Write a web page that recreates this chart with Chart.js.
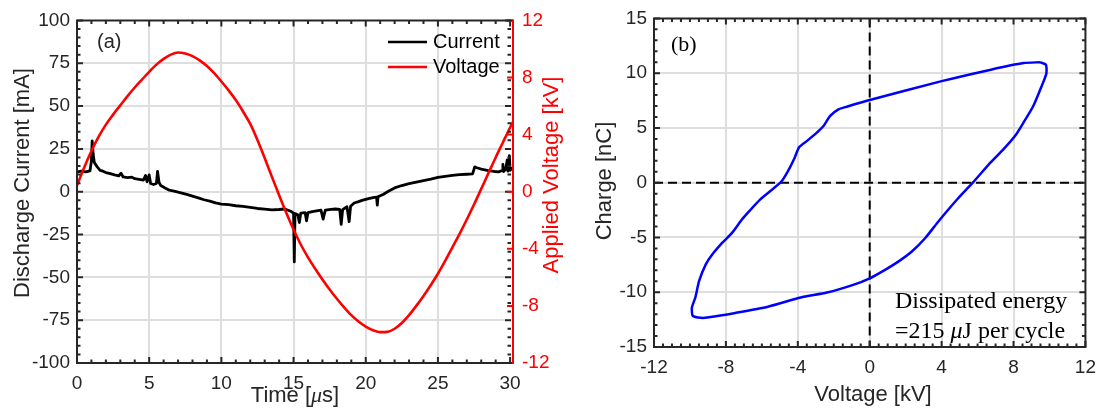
<!DOCTYPE html>
<html>
<head>
<meta charset="utf-8">
<script src="https://cdn.jsdelivr.net/npm/chart.js@4.4.1/dist/chart.umd.min.js"></script>
<style>
  body { margin: 0; background: #fff; }
  #wrap { position: relative; width: 1105px; height: 411px; }
  canvas { position: absolute; top: 0; }
  #chart-a { left: 0; }
  #chart-b { left: 570px; }
</style>
</head>
<body>
<div id="wrap">
  <canvas id="chart-a" width="570" height="411"></canvas>
  <canvas id="chart-b" width="535" height="411"></canvas>
</div>
<script>
// discharge current trace (time in us, current in mA)
const currentTime = [0.0, 0.3, 0.6, 0.9, 1.0, 1.05, 1.12, 1.2, 1.4, 1.6, 1.8, 2.0, 2.3, 2.6, 2.9, 3.05, 3.2, 3.5, 3.8, 4.0,
  4.3, 4.6, 4.75, 4.85, 5.0, 5.1, 5.3, 5.5, 5.58, 5.68, 5.8, 6.1, 6.4, 6.8, 7.2, 7.6, 8.0, 8.4, 8.8, 9.2,
  9.6, 10.0, 10.5, 11.0, 11.5, 12.0, 12.5, 13.0, 13.5, 14.0, 14.4, 14.8, 15.0, 15.05, 15.1, 15.3, 15.4, 15.5, 15.8, 15.9,
  16.0, 16.3, 16.6, 16.9, 17.05, 17.2, 17.6, 17.9, 18.2, 18.3, 18.4, 18.7, 18.85, 18.95, 19.2, 19.5, 19.8, 20.2, 20.5, 20.75,
  20.8, 20.85, 21.2, 21.6, 22.0, 22.5, 23.0, 23.5, 24.0, 24.5, 25.0, 25.5, 26.0, 26.5, 27.0, 27.4, 27.55, 27.7, 28.0, 28.5,
  28.9, 29.2, 29.45, 29.5, 29.55, 29.7, 29.8, 29.85, 29.95, 30.0, 30.2]
const currentMa = [11.5, 12.0, 11.6, 12.2, 18, 29.7, 22, 17, 14.5, 12.5, 12.0, 11.2, 10.6, 9.8, 9.3, 10.8, 8.6, 8.2, 8.5, 7.6,
  7.2, 6.8, 9.5, 5.8, 9.8, 4.8, 4.2, 4.8, 11.8, 5.5, 3.6, 2.2, 0.9, 0.2, -0.7, -1.6, -2.6, -3.6, -4.7, -5.5,
  -6.5, -7.2, -7.6, -8.2, -8.6, -9.2, -9.8, -10.2, -10.6, -10.4, -10.1, -11.4, -12.5, -41, -12.8, -13.5, -18, -12.5, -12.2, -17,
  -12.2, -11.6, -11.2, -10.8, -16, -10.8, -10.3, -10.1, -10.4, -19, -10.5, -8.8, -17.5, -8.5, -6.6, -5.8, -4.9, -4.0, -3.4, -3.2,
  -7.8, -3.0, -1.6, 0.4, 2.2, 3.6, 4.7, 5.6, 6.5, 7.3, 8.3, 9.0, 9.5, 10.0, 10.2, 10.4, 14.5, 14.0, 13.2, 12.3,
  11.8, 11.6, 12.4, 16, 11.8, 13.2, 18.5, 12, 21, 12.5, 14]

// applied voltage (time in us, kV)
const voltTime = [0.0, 0.5, 1.0, 1.5, 2.0, 2.5, 3.0, 3.5, 4.0, 4.5, 5.0, 5.5, 6.0, 6.5, 7.0, 7.5, 8.0, 8.5, 9.0, 9.5,
  10.0, 10.5, 11.0, 11.5, 12.0, 12.5, 13.0, 13.5, 14.0, 14.5, 15.0, 15.5, 16.0, 16.5, 17.0, 17.5, 18.0, 18.5, 19.0, 19.5,
  20.0, 20.5, 21.0, 21.5, 22.0, 22.5, 23.0, 23.5, 24.0, 24.5, 25.0, 25.5, 26.0, 26.5, 27.0, 27.5, 28.0, 28.5, 29.0, 29.5,
  30.0, 30.2]
const voltKv = [0.44, 1.7, 2.85, 3.85, 4.7, 5.4, 6.05, 6.7, 7.3, 7.85, 8.4, 8.9, 9.3, 9.6, 9.75, 9.68, 9.5, 9.2, 8.8, 8.3,
  7.72, 7.1, 6.42, 5.62, 4.75, 3.62, 2.36, 1.05, -0.25, -1.5, -2.65, -3.7, -4.6, -5.4, -6.15, -6.85, -7.5, -8.1, -8.65, -9.1,
  -9.45, -9.7, -9.84, -9.82, -9.6, -9.2, -8.65, -8.0, -7.3, -6.55, -5.75, -4.85, -3.9, -2.95, -1.95, -0.9, 0.2, 1.3, 2.4, 3.45,
  4.5, 4.9]

// charge-voltage loop (kV, nC)
const loopKv = [9.47, 9.8, 9.83, 9.56, 9.1, 8.56, 8.1, 7.46, 6.74, 5.73, 4.91, 4.4, 3.82, 3.09, 2.36, 1.63, 0.9, 0.0, -0.92, -2.38,
  -3.84, -5.66, -7.48, -8.94, -9.39, -9.85, -9.89, -9.7, -9.49, -9.12, -8.76, -8.21, -7.67, -7.12, -6.7, -6.1, -4.93, -4.57, -4.2, -3.93,
  -3.47, -2.93, -2.56, -2.2, -1.74, -1.28, 0.0, 4.0, 6.74, 8.56, 9.47]
const loopNc = [11.0, 10.77, 10.0, 8.8, 7.0, 5.5, 4.3, 3.08, 1.88, 0.0, -1.44, -2.4, -3.54, -5.05, -6.26, -7.16, -7.91, -8.73, -9.33, -10.03,
  -10.48, -11.32, -11.89, -12.29, -12.34, -12.13, -11.38, -10.48, -8.97, -7.46, -6.56, -5.5, -4.6, -3.39, -2.6, -1.55, 0.07, 0.98, 2.18, 3.24,
  3.84, 4.59, 5.2, 6.1, 6.7, 6.94, 7.55, 9.27, 10.32, 10.92, 11.0]

const timeTicks = [0, 5, 10, 15, 20, 25, 30]
const currentTicks = [-100, -75, -50, -25, 0, 25, 50, 75, 100]
const appliedTicks = [-12, -8, -4, 0, 4, 8, 12]
const loopVoltTicks = [-12, -8, -4, 0, 4, 8, 12]
const chargeTicks = [-15, -10, -5, 0, 5, 10, 15]

const SANS = '"Liberation Sans", Arial, Helvetica, sans-serif'
const SERIF = '"Liberation Serif", "Times New Roman", serif'
const AXIS = '#262626'
const GRID = '#dedede'

Chart.defaults.font.family = SANS
Chart.defaults.color = AXIS

const pairs = (xs, ys) => xs.map((x, i) => ({ x, y: ys[i] }))
const fixTicks = values => scale => { scale.ticks = values.map(value => ({ value })) }
const innerGrid = (lo, hi) => ctx => (ctx.tick.value > lo && ctx.tick.value < hi) ? GRID : 'rgba(0,0,0,0)'

// text made of pieces with different fonts, e.g. an italic mu
function drawRich(ctx, parts, x, y, align, rotate, color) {
    ctx.save()
    ctx.fillStyle = color || AXIS
    ctx.textBaseline = 'middle'
    ctx.translate(x, y)
    if (rotate) ctx.rotate(-Math.PI / 2)
    let total = 0
    parts.forEach(p => { ctx.font = p.font; total += ctx.measureText(p.text).width })
    let cx = align === 'center' ? -total / 2 : 0
    ctx.textAlign = 'left'
    parts.forEach(p => {
        ctx.font = p.font
        ctx.fillText(p.text, cx, 0)
        cx += ctx.measureText(p.text).width
    })
    ctx.restore()
}

// inward minor/major ticks along one edge
function edgeTicks(ctx, scale, step, majors, fixed, side, color) {
    const lo = Math.ceil(scale.min / step - 1e-9), hi = Math.floor(scale.max / step + 1e-9)
    ctx.strokeStyle = color
    ctx.lineWidth = 2
    ctx.beginPath()
    for (let i = lo; i <= hi; i++) {
        const v = i * step
        const p = scale.getPixelForValue(v)
        const len = majors.some(m => Math.abs(m - v) < 1e-6) ? 6 : 3.5
        if (side === 'bottom') { ctx.moveTo(p, fixed); ctx.lineTo(p, fixed - len) }
        if (side === 'top') { ctx.moveTo(p, fixed); ctx.lineTo(p, fixed + len) }
        if (side === 'left') { ctx.moveTo(fixed, p); ctx.lineTo(fixed + len, p) }
        if (side === 'right') { ctx.moveTo(fixed, p); ctx.lineTo(fixed - len, p) }
    }
    ctx.stroke()
}

function frame(ctx, a, rightColor) {
    ctx.lineWidth = 2
    ctx.strokeStyle = AXIS
    ctx.beginPath()
    ctx.moveTo(a.right, a.top); ctx.lineTo(a.left, a.top)
    ctx.lineTo(a.left, a.bottom); ctx.lineTo(a.right, a.bottom)
    ctx.stroke()
    ctx.strokeStyle = rightColor
    ctx.beginPath()
    ctx.moveTo(a.right, a.top - 1); ctx.lineTo(a.right, a.bottom + 1)
    ctx.stroke()
}

//Panel (a): current and voltage against time
const decorA = {
    id: 'decorA',
    afterDraw(chart) {
        const { ctx, chartArea: a, scales } = chart
        ctx.save()
        edgeTicks(ctx, scales.x, 1, timeTicks, a.bottom, 'bottom', AXIS)
        edgeTicks(ctx, scales.x, 1, timeTicks, a.top, 'top', AXIS)
        edgeTicks(ctx, scales.yI, 5, currentTicks, a.left, 'left', AXIS)
        edgeTicks(ctx, scales.yI, 5, currentTicks, a.right - 2, 'right', AXIS)
        edgeTicks(ctx, scales.yV, 4, appliedTicks, a.right, 'right', '#ff0000')
        frame(ctx, a, '#ff0000')
        ctx.restore()

        const title = '22px ' + SANS
        drawRich(ctx, [{ text: 'Discharge Current [mA]', font: title }], 23, 183, 'center', true)
        drawRich(ctx, [{ text: 'Applied Voltage [kV]', font: title }], 552, 175, 'center', true, '#ff0000')
        drawRich(ctx, [
            { text: 'Time [', font: title },
            { text: 'μ', font: 'italic 22px ' + SERIF },
            { text: 's]', font: title }
        ], 295, 396, 'center')
        drawRich(ctx, [{ text: '(a)', font: '20px ' + SANS }], 97, 42, 'left')

        // legend
        ctx.save()
        ctx.lineWidth = 2.5
        ;[['Current', '#000000', 42], ['Voltage', '#ff0000', 67]].forEach(([name, color, y]) => {
            ctx.strokeStyle = color
            ctx.beginPath(); ctx.moveTo(388, y); ctx.lineTo(427, y); ctx.stroke()
            drawRich(ctx, [{ text: name, font: '20px ' + SANS }], 433, y, 'left', false, '#000000')
        })
        ctx.restore()
    }
}

new Chart('chart-a', {
    type: 'line',
    data: {
        datasets: [
            {
                label: 'Voltage',
                data: pairs(voltTime, voltKv),
                yAxisID: 'yV',
                borderColor: '#ff0000',
                borderWidth: 2.6,
                pointRadius: 0,
                cubicInterpolationMode: 'monotone',
                order: 0
            },
            {
                label: 'Current',
                data: pairs(currentTime, currentMa),
                yAxisID: 'yI',
                borderColor: '#000000',
                borderWidth: 2.8,
                borderJoinStyle: 'round',
                pointRadius: 0,
                tension: 0,
                order: 1
            }
        ]
    },
    options: {
        responsive: false,
        animation: false,
        events: [],
        layout: { padding: { top: 15, left: 0, right: 0, bottom: 0 } },
        plugins: { legend: { display: false }, tooltip: { enabled: false } },
        scales: {
            x: {
                type: 'linear', min: 0, max: 30.2,
                afterBuildTicks: fixTicks(timeTicks),
                afterFit: s => { s.height = 48 },
                ticks: { font: { size: 19 }, padding: 9, maxRotation: 0, autoSkip: false },
                grid: { color: innerGrid(0, 30), lineWidth: 2, drawTicks: false },
                border: { display: false }
            },
            yI: {
                position: 'left', min: -100, max: 100,
                afterBuildTicks: fixTicks(currentTicks),
                afterFit: s => { s.width = 77 },
                ticks: { font: { size: 19 }, padding: 7, autoSkip: false },
                grid: { color: innerGrid(-100, 100), lineWidth: 2, drawTicks: false },
                border: { display: false }
            },
            yV: {
                position: 'right', min: -12, max: 12,
                afterBuildTicks: fixTicks(appliedTicks),
                afterFit: s => { s.width = 57 },
                ticks: { font: { size: 19 }, padding: 9, color: '#ff0000', autoSkip: false },
                grid: { drawOnChartArea: false, drawTicks: false },
                border: { display: false }
            }
        }
    },
    plugins: [decorA]
})

//Panel (b): charge against voltage
const decorB = {
    id: 'decorB',
    beforeDatasetsDraw(chart) {
        const { ctx, chartArea: a, scales } = chart
        const x0 = scales.x.getPixelForValue(0), y0 = scales.y.getPixelForValue(0)
        ctx.save()
        ctx.strokeStyle = '#000000'
        ctx.lineWidth = 2
        ctx.setLineDash([9, 5])
        ctx.beginPath()
        ctx.moveTo(x0, a.top); ctx.lineTo(x0, a.bottom)
        ctx.moveTo(a.left, y0); ctx.lineTo(a.right, y0)
        ctx.stroke()
        ctx.restore()
    },
    afterDraw(chart) {
        const { ctx, chartArea: a, scales } = chart
        ctx.save()
        edgeTicks(ctx, scales.x, 0.5, loopVoltTicks, a.bottom, 'bottom', AXIS)
        edgeTicks(ctx, scales.x, 0.5, loopVoltTicks, a.top, 'top', AXIS)
        edgeTicks(ctx, scales.y, 1, chargeTicks, a.left, 'left', AXIS)
        edgeTicks(ctx, scales.y, 1, chargeTicks, a.right, 'right', AXIS)
        frame(ctx, a, AXIS)
        ctx.restore()

        const title = '22px ' + SANS
        drawRich(ctx, [{ text: 'Charge [nC]', font: title }], 35, 181, 'center', true)
        drawRich(ctx, [{ text: 'Voltage [kV]', font: title }], 303, 395, 'center')
        drawRich(ctx, [{ text: '(b)', font: '22px ' + SERIF }], 101, 45, 'left', false, '#000000')

        const note = '24px ' + SERIF
        drawRich(ctx, [{ text: 'Dissipated energy', font: note }], 325, 302, 'left', false, '#000000')
        drawRich(ctx, [
            { text: '=215 ', font: note },
            { text: 'μ', font: 'italic ' + note },
            { text: 'J per cycle', font: note }
        ], 325, 332, 'left', false, '#000000')
    }
}

new Chart('chart-b', {
    type: 'scatter',
    data: {
        datasets: [{
            label: 'Charge',
            data: pairs(loopKv, loopNc),
            showLine: true,
            borderColor: '#0000ff',
            borderWidth: 2.5,
            borderJoinStyle: 'round',
            pointRadius: 0,
            tension: 0.2
        }]
    },
    options: {
        responsive: false,
        animation: false,
        events: [],
        layout: { padding: { top: 15, left: 0, right: 12, bottom: 0 } },
        plugins: { legend: { display: false }, tooltip: { enabled: false } },
        scales: {
            x: {
                type: 'linear', min: -12, max: 12,
                afterBuildTicks: fixTicks(loopVoltTicks),
                afterFit: s => { s.height = 64 },
                ticks: { font: { size: 19 }, padding: 9, maxRotation: 0, autoSkip: false },
                grid: { color: innerGrid(-12, 12), lineWidth: 2, drawTicks: false },
                border: { display: false }
            },
            y: {
                type: 'linear', min: -15, max: 15,
                afterBuildTicks: fixTicks(chargeTicks),
                afterFit: s => { s.width = 84 },
                ticks: { font: { size: 19 }, padding: 7, autoSkip: false },
                grid: { color: innerGrid(-15, 15), lineWidth: 2, drawTicks: false },
                border: { display: false }
            }
        }
    },
    plugins: [decorB]
})
</script>
</body>
</html>
